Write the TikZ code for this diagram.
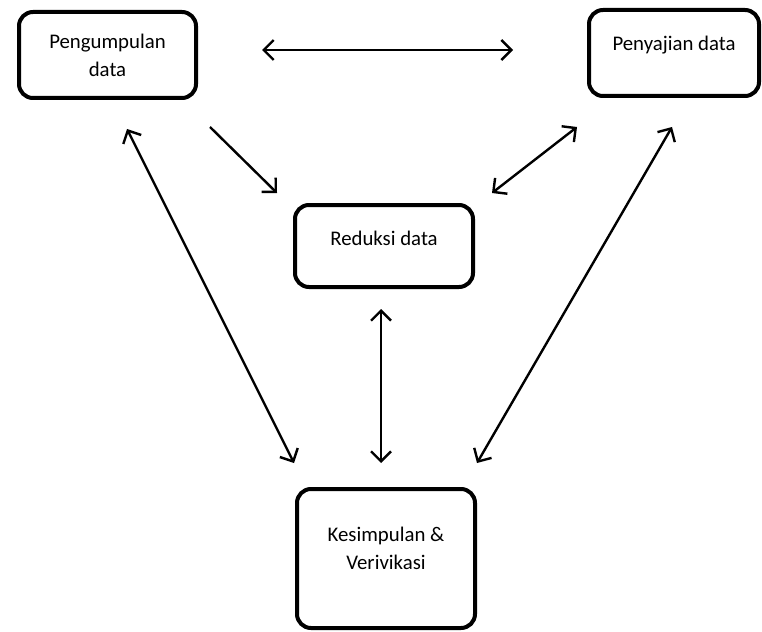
\documentclass[tikz,border=0pt]{standalone}
\usepackage{fontspec}
\setmainfont{Carlito}
\usetikzlibrary{arrows.meta}

\begin{document}
\begin{tikzpicture}[x=1pt,y=-1pt,
    kotak/.style={draw,rounded corners=14pt,line width=4pt,align=center,
      font=\fontsize{20.8}{28}\selectfont},
    panah/.style={line width=2.4pt,{Straight Barb[length=10pt,width=20pt]}-{Straight Barb[length=10pt,width=20pt]}}]
  \useasboundingbox (0,0) rectangle (762,631);
  \node[kotak,minimum width=177,minimum height=86] (kumpul) at (107.5,55) {Pengumpulan\\data};
  \node[kotak,minimum width=170,minimum height=86,text depth=20pt] (saji) at (674,53) {Penyajian data};
  \node[kotak,minimum width=178,minimum height=82,text depth=16pt] (reduksi) at (384,246) {Reduksi data};
  \node[kotak,minimum width=178,minimum height=139,text depth=20pt] (simpul) at (386,558.5) {Kesimpulan \&\\Verivikasi};

  \coordinate (a1) at (262,50);
  \coordinate (a2) at (513,50);
  \coordinate (b1) at (210,127);
  \coordinate (b2) at (277,193);
  \coordinate (c1) at (577,127);
  \coordinate (c2) at (492,193);
  \coordinate (d1) at (127,129);
  \coordinate (d2) at (294,463);
  \coordinate (e1) at (672,127);
  \coordinate (e2) at (477,463);
  \coordinate (f1) at (381,309);
  \coordinate (f2) at (381,463);

  \draw[panah] (a1) -- (a2);
  \draw[panah,{Straight Barb[length=10pt,width=20pt]}-] (b2) -- (b1);
  \draw[panah] (c1) -- (c2);
  \draw[panah] (d1) -- (d2);
  \draw[panah] (e1) -- (e2);
  \draw[panah] (f1) -- (f2);
\end{tikzpicture}
\end{document}
